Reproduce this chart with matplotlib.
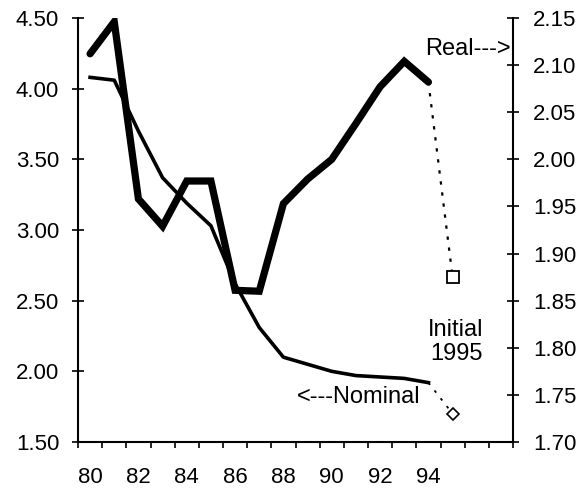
import matplotlib
matplotlib.use("Agg")
import matplotlib.pyplot as plt
from matplotlib.ticker import FixedLocator, NullFormatter

plt.rcParams['font.family'] = ['Liberation Sans', 'DejaVu Sans']

years = [80, 81, 82, 83, 84, 85, 86, 87, 88, 89, 90, 91, 92, 93, 94]
nominal = [4.08, 4.06, 3.70, 3.37, 3.19, 3.03, 2.62, 2.31, 2.10, 2.05, 2.00, 1.97, 1.96, 1.95, 1.92]
real = [2.112, 2.146, 1.958, 1.929, 1.977, 1.977, 1.861, 1.860, 1.953, 1.979, 2.000, 2.038, 2.077, 2.104, 2.082]
initial_year = 95
nominal_initial = 1.70
real_initial = 1.875
xlabels = ['80', '82', '84', '86', '88', '90', '92', '94']
left_ticks = [1.50, 2.00, 2.50, 3.00, 3.50, 4.00, 4.50]
right_ticks = [1.70, 1.75, 1.80, 1.85, 1.90, 1.95, 2.00, 2.05, 2.10, 2.15]

fig = plt.figure(figsize=(5.85, 4.90), dpi=100)
ax = fig.add_axes([78/585, 48/490, (513-78)/585, (442-18)/490])
ax2 = ax.twinx()

# Nominal (left axis, thin line)
ax.plot(years, nominal, color='black', lw=2.6, solid_joinstyle='round', zorder=3)
ax.plot([years[-1], initial_year], [nominal[-1], nominal_initial], color='black',
        lw=1.3, linestyle=(0, (1.5, 4)), zorder=3)
ax.plot([initial_year], [nominal_initial], marker='D', markersize=6.5, mfc='white',
        mec='black', mew=1.2, linestyle='none', zorder=4)

# Real (right axis, thick line)
ax2.plot(years, real, color='black', lw=5.2, solid_joinstyle='miter', solid_capstyle='round', zorder=3)
ax2.plot([years[-1], initial_year], [real[-1], real_initial], color='black',
         lw=1.6, linestyle=(0, (1.5, 3.5)), zorder=3)
ax2.plot([initial_year], [real_initial], marker='s', markersize=8, mfc='white',
         mec='black', mew=1.3, linestyle='none', zorder=4)

ax.set_xlim(79.5, 97.5)
ax.set_ylim(1.5, 4.5)
ax2.set_ylim(1.70, 2.15)

ax.set_yticks(left_ticks)
ax.set_yticklabels([f'{v:.2f}' for v in left_ticks])
ax2.set_yticks(right_ticks)
ax2.set_yticklabels([f'{v:.2f}' for v in right_ticks])

ax.set_xticks(list(range(80, 95, 2)))
ax.set_xticklabels(xlabels)
ax.xaxis.set_minor_locator(FixedLocator([79.5 + k for k in range(19)]))
ax.xaxis.set_minor_formatter(NullFormatter())
ax.tick_params(axis='x', which='major', length=0, pad=18, labelsize=16)
ax.tick_params(axis='x', which='minor', length=4, width=1.2, direction='out')
ax.tick_params(axis='y', which='major', length=9, width=1.2, direction='inout', pad=9, labelsize=16)
ax2.tick_params(axis='y', which='major', length=9, width=1.2, direction='inout', pad=10, labelsize=16)

for a in (ax, ax2):
    a.spines['top'].set_visible(False)
    for s in ('left', 'right', 'bottom'):
        a.spines[s].set_linewidth(1.5)
ax2.spines['left'].set_visible(False)
ax2.spines['bottom'].set_visible(False)
ax.spines['right'].set_visible(False)

ax.text(0.995, (442-49)/424, 'Real--->', transform=ax.transAxes, ha='right', va='center', fontsize=17)
ax.text((420-78)/435, (442-397)/424, '<---Nominal', transform=ax.transAxes,
        ha='right', va='center', fontsize=17)
ax.text((456-78)/435, (442-342)/424, 'Initial\n1995', transform=ax.transAxes,
        ha='center', va='center', fontsize=17, linespacing=1.15)

fig.savefig('out.png', dpi=100)
